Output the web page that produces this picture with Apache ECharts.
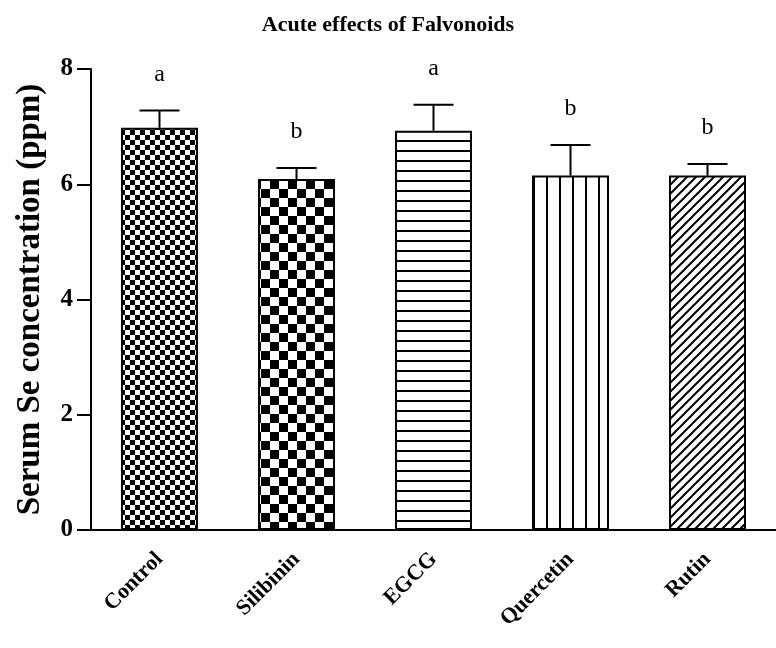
<!DOCTYPE html>
<html><head><meta charset="utf-8">
<script src="https://cdn.jsdelivr.net/npm/echarts@6/dist/echarts.min.js"></script>
<style>html,body{margin:0;padding:0;background:#fff}#c{width:776px;height:648px}</style>
</head><body><div id="c"></div>
<script>
// ---- data ----
const categories = ['Control', 'Silibinin', 'EGCG', 'Quercetin', 'Rutin'];
const means = [6.98, 6.09, 6.93, 6.15, 6.15];
const errors = [0.30, 0.19, 0.45, 0.53, 0.20];
const letters = ['a', 'b', 'a', 'b', 'b'];
const yMin = 0, yMax = 8, yInterval = 2;
const titleText = 'Acute effects of Falvonoids';
const yName = 'Serum Se concentration (ppm)';

// ---- patterns ----
const FONT = "'Liberation Serif','Times New Roman',serif";
function mk(w, h, draw) {
  const c = document.createElement('canvas');
  c.width = w; c.height = h;
  const g = c.getContext('2d');
  g.fillStyle = '#fff'; g.fillRect(0, 0, w, h);
  g.fillStyle = '#000'; g.strokeStyle = '#000';
  draw(g, w, h);
  return { image: c, repeat: 'repeat' };
}
const patterns = [
  mk(10, 10, g => { g.fillRect(0, 0, 5, 5); g.fillRect(5, 5, 5, 5); }),
  mk(18, 18, g => { g.fillRect(0, 0, 9, 9); g.fillRect(9, 9, 9, 9); }),
  mk(10, 10, g => { g.fillRect(0, 0, 10, 2); }),
  mk(13, 10, g => { g.fillRect(0, 0, 2, 10); }),
  mk(9, 9, g => {
    g.lineWidth = 2;
    g.beginPath();
    g.moveTo(-1, 10); g.lineTo(10, -1);
    g.moveTo(-6, 6); g.lineTo(6, -6);
    g.moveTo(3, 15); g.lineTo(15, 3);
    g.stroke();
  })
];

const chart = echarts.init(document.getElementById('c'), null, { renderer: 'canvas' });
chart.setOption({
  backgroundColor: '#fff',
  animation: false,
  title: {
    text: titleText, left: 'center', top: 9,
    textStyle: { fontFamily: FONT, fontWeight: 'bold', fontSize: 22, color: '#000' }
  },
  grid: { left: 91, top: 69, width: 693, height: 461 },
  xAxis: {
    type: 'category', data: categories,
    axisLine: { lineStyle: { color: '#000', width: 2 } },
    axisTick: { alignWithLabel: true, length: 14, lineStyle: { color: '#000', width: 2 } },
    axisLabel: { rotate: 45, margin: 26, color: '#000', fontFamily: FONT, fontWeight: 'bold', fontSize: 22 }
  },
  yAxis: {
    type: 'value', min: yMin, max: yMax, interval: yInterval,
    name: yName, nameLocation: 'middle', nameGap: 44, nameRotate: 90,
    nameTextStyle: { fontFamily: FONT, fontWeight: 'bold', fontSize: 33, color: '#000' },
    axisLine: { show: true, lineStyle: { color: '#000', width: 2 } },
    axisTick: { show: true, length: 14, lineStyle: { color: '#000', width: 2 } },
    axisLabel: { margin: 18, color: '#000', fontFamily: FONT, fontWeight: 'bold', fontSize: 25 },
    splitLine: { show: false }
  },
  series: [
    {
      type: 'bar', barWidth: 77,
      data: means.map((v, i) => ({ value: v, itemStyle: { color: patterns[i] } })),
      itemStyle: { borderColor: '#000', borderWidth: 2 }
    },
    {
      type: 'custom', z: 5,
      data: categories.map((c, i) => [i, means[i], errors[i]]),
      renderItem: function (params, api) {
        const i = api.value(0), m = api.value(1), e = api.value(2);
        const base = api.coord([i, m]);
        const top = api.coord([i, m + e]);
        const hw = 20;
        return {
          type: 'group', children: [
            { type: 'line', shape: { x1: base[0], y1: base[1], x2: top[0], y2: top[1] }, style: { stroke: '#000', lineWidth: 2 } },
            { type: 'line', shape: { x1: top[0] - hw, y1: top[1], x2: top[0] + hw, y2: top[1] }, style: { stroke: '#000', lineWidth: 2 } },
            { type: 'text', style: { text: letters[params.dataIndex], x: top[0], y: top[1] - 36, align: 'center', verticalAlign: 'middle', font: '24px ' + FONT, fill: '#000' } }
          ]
        };
      }
    }
  ]
});
</script>
</body></html>
